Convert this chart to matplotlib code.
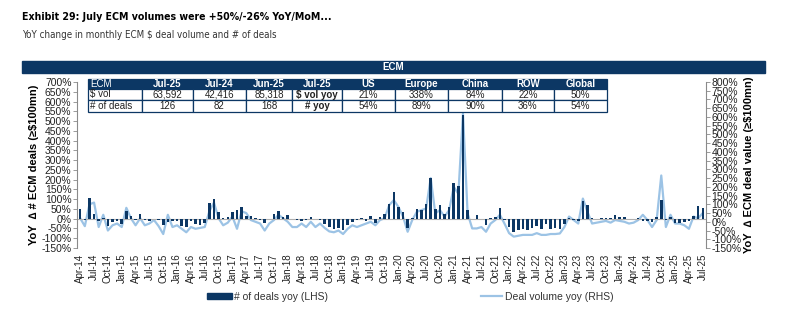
import numpy as np
import matplotlib
matplotlib.use('Agg')
import matplotlib.pyplot as plt
import pandas as pd
from matplotlib.patches import Rectangle
from matplotlib.lines import Line2D

# monthly data, Apr-14 .. Jul-25
months = pd.date_range('2014-04-01', periods=136, freq='MS')
month_labels = [m.strftime('%b-%y') for m in months]

# YoY change in # of ECM deals (LHS, %)
deals_yoy = [48, -5, 108, 22, -10, 5, -35, -15, -10, -25,
             40, 15, -5, 22, -5, -10, 0, -5, -30, -15,
             -10, -10, -35, -45, -10, -25, -30, -20, 80, 100,
             35, 5, 10, 35, 45, 58, 15, 15, 5, -5,
             -20, 0, 25, 38, 10, 18, 0, -5, -10, -5,
             8, -3, -5, -25, -40, -55, -50, -58, -30, -15,
             -5, 5, -10, 12, -20, 10, 25, 77, 137, 60,
             35, -50, 5, 50, 46, 77, 210, 50, 72, 25,
             60, 185, 170, 530, 45, 0, 20, 0, -30, 5,
             10, 55, -5, -45, -70, -60, -55, -60, -50, -35,
             -55, -25, -55, -50, -55, -25, 5, -5, -10, 90,
             70, 5, 0, 3, 5, 5, 20, 10, 8, 0,
             0, 5, -10, -10, -15, 10, 95, -5, 10, -20,
             -20, -15, -10, 15, 65, 55]

# YoY change in ECM deal volume (RHS, %)
volume_yoy = [20, -25, 100, 110, -30, 40, -50, -20, -10, -30,
              80, 20, -20, 20, -20, -10, 10, -25, -70, 40,
              -30, -20, -40, -60, -30, -40, -35, -30, 60, 110,
              20, -20, -5, 30, -40, 60, 50, 10, 0, -10,
              -50, -10, 10, 40, 20, 0, -30, -30, -10, -30,
              0, -30, -10, -35, -55, -60, -50, -70, -40, -20,
              -30, -20, -10, 0, -20, 10, 20, 95, 124, 85,
              30, -57, 10, 57, 67, 76, 250, 48, 67, 30,
              67, 200, 160, 620, 48, -38, -38, -30, -57, -10,
              10, 40, -10, -65, -85, -80, -75, -75, -75, -65,
              -75, -75, -70, -70, -67, -30, 30, 10, -10, 133,
              57, -10, -5, 0, 5, -5, 10, 5, 0, -10,
              -5, 10, 40, 10, -30, 10, 265, -30, 40, -10,
              -10, -20, -40, 30, 20, 50]

# summary table
table_header = ['ECM', 'Jul-25', 'Jul-24', 'Jun-25', 'Jul-25', 'US', 'Europe', 'China', 'ROW', 'Global']
table_row1 = ['$ vol', '63,592', '42,416', '85,318', '$ vol yoy', '21%', '338%', '84%', '22%', '50%']
table_row2 = ['# of deals', '126', '82', '168', '# yoy', '54%', '89%', '90%', '36%', '54%']

navy = '#0c3764'
light = '#9cc3e5'
grey = '#8a8a8a'
W, H = 795, 325

plt.rcParams['font.family'] = ['Liberation Sans', 'DejaVu Sans']

def fx(px):
    return px / W

def fy(py):
    return 1 - py / H

fig = plt.figure(figsize=(7.95, 3.25), dpi=100)

# titles
fig.text(fx(22), fy(17), 'Exhibit 29: July ECM volumes were +50%/-26% YoY/MoM...',
         fontsize=7.6, fontweight='bold', va='center', ha='left',
         family='DejaVu Sans', stretch='condensed')
fig.text(fx(22), fy(35), 'YoY change in monthly ECM $ deal volume and # of deals',
         fontsize=7.0, va='center', ha='left', color='#333333',
         family='DejaVu Sans', stretch='condensed')

# banner
fig.patches.append(Rectangle((fx(22), fy(73)), fx(765 - 22), 12 / H,
                             transform=fig.transFigure, color=navy, zorder=0))
fig.text(fx(393), fy(67), 'ECM', color='white', fontsize=7, fontweight='bold',
         ha='center', va='center')

# main axes
x = np.arange(len(months))
ax = fig.add_axes([fx(77), fy(248), fx(706 - 77), (248 - 82) / H])
ax2 = ax.twinx()
ax.bar(x, deals_yoy, width=0.55, color=navy, zorder=3)
ax2.plot(x, volume_yoy, color=light, lw=1.6, zorder=2)
ax.set_zorder(ax2.get_zorder() + 1)
ax.patch.set_visible(False)
ax.axhline(0, color='#b0b0b0', lw=0.8, zorder=1)

ax.set_xlim(-0.7, len(months) - 0.3)
ax.set_ylim(-150, 700)
ax2.set_ylim(-150, 800)
ax.set_yticks(np.arange(-150, 701, 50))
ax2.set_yticks(np.arange(-150, 801, 50))
ax.set_yticklabels(['%d%%' % v for v in range(-150, 701, 50)])
ax2.set_yticklabels(['%d%%' % v for v in range(-150, 801, 50)])
ax.set_xticks(x[::3])
ax.set_xticklabels(month_labels[::3], rotation=90, fontsize=7)

for a in (ax, ax2):
    for s in ('top', 'bottom'):
        a.spines[s].set_visible(False)
    a.tick_params(axis='y', labelsize=7.5, colors='#222222', length=3, width=0.6, color=grey, pad=1)
ax.spines['left'].set_color(grey)
ax.spines['right'].set_visible(False)
ax2.spines['left'].set_visible(False)
ax2.spines['right'].set_color(grey)
ax.tick_params(axis='x', length=0, pad=4, colors='#222222')

ax.set_ylabel('YoY  \u2206 # ECM deals (\u2265$100mn)', fontsize=8, fontweight='bold', labelpad=2)
ax2.set_ylabel('YoY  \u2206 ECM deal value (\u2265$100mn)', fontsize=8, fontweight='bold',
               rotation=90, labelpad=2)

# table
col_edges = [88, 142, 193, 246, 292, 342, 395, 448, 502, 554, 607]
row_edges = [79, 89, 100, 112]
rows = [table_header, table_row1, table_row2]
for r, cells in enumerate(rows):
    y0, y1 = row_edges[r], row_edges[r + 1]
    for c, txt in enumerate(cells):
        x0, x1 = col_edges[c], col_edges[c + 1]
        face = navy if r == 0 else 'white'
        fig.patches.append(Rectangle((fx(x0), fy(y1)), fx(x1 - x0), (y1 - y0) / H,
                                     transform=fig.transFigure, facecolor=face,
                                     edgecolor=navy, lw=0.9, zorder=5))
        bold = (r == 0 and c > 0) or (c == 4)
        color = 'white' if r == 0 else '#222222'
        if c == 0:
            fig.text(fx(x0 + 2), fy((y0 + y1) / 2), txt, ha='left', va='center',
                     fontsize=7, color=color, zorder=6)
        else:
            fig.text(fx((x0 + x1) / 2), fy((y0 + y1) / 2), txt, ha='center', va='center',
                     fontsize=7, color=color, fontweight='bold' if bold else 'normal', zorder=6)

# legend (two separate entries, far apart as in the source)
h1 = Rectangle((0, 0), 1, 1, color=navy)
h2 = Line2D([0], [0], color=light, lw=1.6)
leg1 = fig.legend([h1], ['# of deals yoy (LHS)'], loc='center left',
                  bbox_to_anchor=(fx(198), fy(297)), frameon=False, fontsize=7.5,
                  handlelength=2.4, handleheight=0.5, handletextpad=0.2,
                  labelcolor='#333333')
leg2 = fig.legend([h2], ['Deal volume yoy (RHS)'], loc='center left',
                  bbox_to_anchor=(fx(472), fy(297)), frameon=False, fontsize=7.5,
                  handlelength=2.0, handletextpad=0.3, labelcolor='#333333')

fig.savefig('out.png', dpi=100)
